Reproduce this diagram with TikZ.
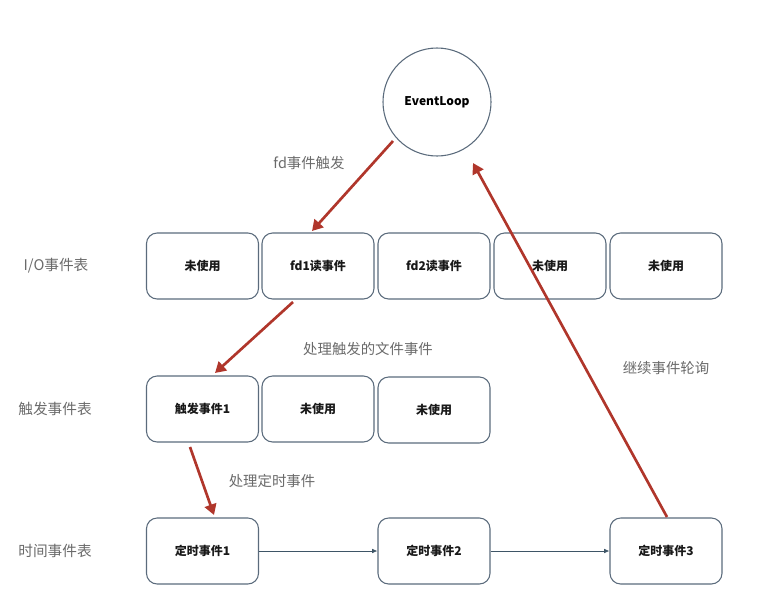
\documentclass[tikz,border=0pt]{standalone}
\usepackage{fontspec}
\setmainfont{Noto Sans CJK SC}
\usetikzlibrary{arrows.meta}
\definecolor{boxline}{HTML}{5B6B7C}
\definecolor{redarrow}{HTML}{B0362B}
\definecolor{labelgray}{HTML}{6A6A6A}
\definecolor{flowline}{HTML}{3E5566}
\tikzset{
  cell/.style={draw=boxline, line width=0.8pt, rounded corners=8pt, minimum width=84pt, minimum height=49.5pt, inner sep=0pt, font=\fontsize{9}{11}\selectfont\bfseries, text=black!90},
  rowlabel/.style={font=\fontsize{11}{13}\selectfont, text=labelgray},
  edgelabel/.style={font=\fontsize{10.8}{13}\selectfont, text=labelgray},
  redarr/.style={draw=redarrow, line width=2pt, -{Triangle[length=8pt,width=9pt]}},
  flowarr/.style={draw=flowline, line width=0.6pt, -{Latex[length=4pt,width=3.5pt]}}
}
\begin{document}
\begin{tikzpicture}[x=0.75pt,y=-0.75pt]
\useasboundingbox (0,0) rectangle (781,607);
\node[circle, draw=boxline, line width=0.8pt, minimum size=81pt, inner sep=0pt, font=\fontsize{9}{11}\selectfont\bfseries] (loop) at (437,102) {EventLoop};

\node[rowlabel] (l1) at (56,266) {I/O事件表};
\node[rowlabel] (l2) at (55,409) {触发事件表};
\node[rowlabel] (l3) at (55,551) {时间事件表};

\node[cell] (a1) at (202.5,266) {未使用};
\node[cell] (a2) at (318,266) {fd1读事件};
\node[cell] (a3) at (434,266) {fd2读事件};
\node[cell] (a4) at (550,266) {未使用};
\node[cell] (a5) at (666,266) {未使用};

\node[cell] (b1) at (202.5,409) {触发事件1};
\node[cell] (b2) at (318,409) {未使用};
\node[cell] (b3) at (434,410) {未使用};

\node[cell] (c1) at (202.5,551) {定时事件1};
\node[cell] (c2) at (434,551) {定时事件2};
\node[cell] (c3) at (666,551) {定时事件3};

\draw[flowarr] (c1) -- (c2);
\draw[flowarr] (c2) -- (c3);

\coordinate (p1) at (393,141);
\coordinate (p2) at (312,231);
\coordinate (p3) at (293,302);
\coordinate (p4) at (215,373);
\coordinate (p5) at (190,447);
\coordinate (p6) at (214,515);
\coordinate (p7) at (667,517);
\coordinate (p8) at (473,163);
\draw[redarr] (p1) -- (p2);
\draw[redarr] (p3) -- (p4);
\draw[redarr] (p5) -- (p6);
\draw[redarr] (p7) -- (p8);

\node[edgelabel] (t1) at (309,163) {fd事件触发};
\node[edgelabel] (t2) at (368,349) {处理触发的文件事件};
\node[edgelabel] (t3) at (272,481) {处理定时事件};
\node[edgelabel] (t4) at (666,368) {继续事件轮询};
\end{tikzpicture}
\end{document}
